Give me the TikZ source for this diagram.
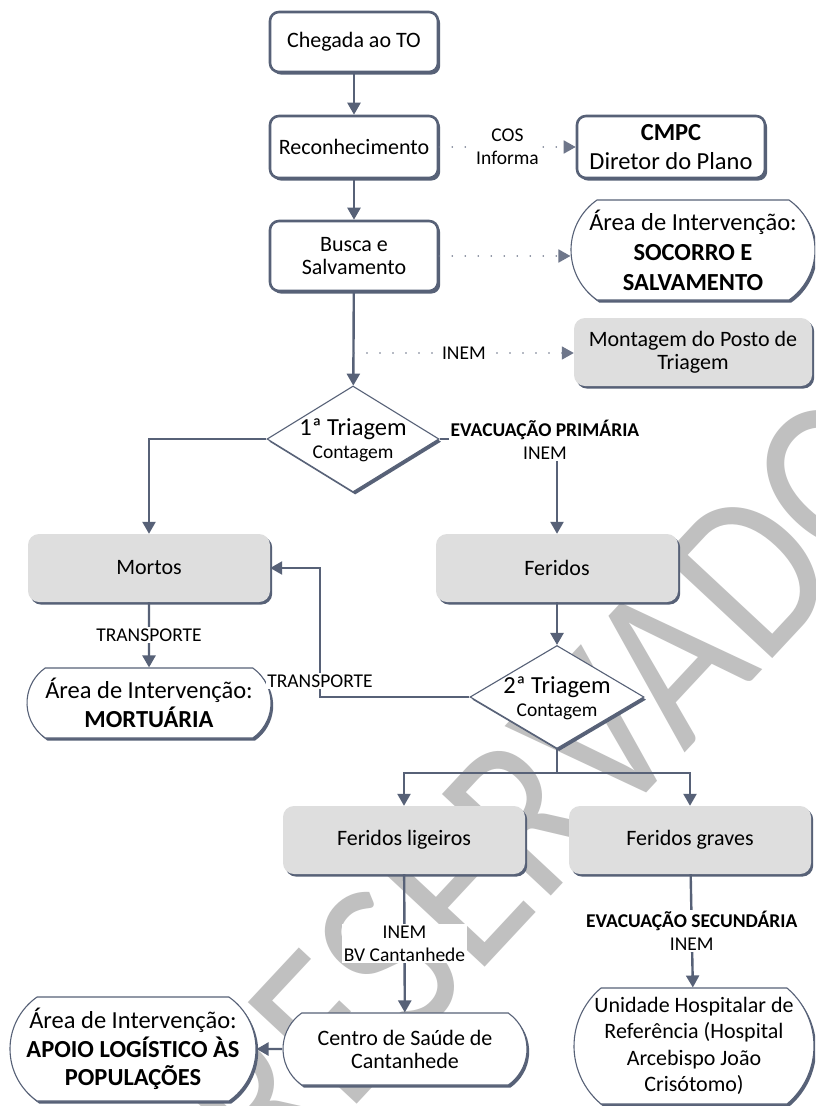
\documentclass[tikz,border=0pt]{standalone}
\usepackage{fontspec}
\setmainfont{Carlito}
\newfontfamily\wmfont[FakeStretch=0.86]{Carlito}
\usetikzlibrary{arrows.meta,shapes.geometric,shapes.misc,shadows}
\definecolor{slate}{RGB}{87,97,119}
\definecolor{dotc}{RGB}{110,118,138}
\definecolor{boxgray}{RGB}{222,222,222}
\definecolor{wmark}{RGB}{192,192,192}
\newcommand{\myfmain}{\fontsize{22}{23}\selectfont}
\newcommand{\myfbig}{\fontsize{24.5}{28.5}\selectfont}
\newcommand{\myfsmall}{\fontsize{19.5}{23}\selectfont}
\newcommand{\diatext}[2]{\makebox[0pt]{\smash{\raisebox{-8pt}{\myfsmall\begin{tabular}{@{}c@{}}{\myfbig #1}\\#2\end{tabular}}}}}
\begin{document}
\begin{tikzpicture}[x=1pt,y=-1pt,
 shd/.style={drop shadow={shadow xshift=2.2pt,shadow yshift=-2.6pt,opacity=1,fill=slate}},
 wbox/.style={shd,draw=slate,line width=2.6pt,fill=white,rounded corners=9pt,minimum width=168pt,inner sep=1pt,align=center,font=\myfmain},
 gbox/.style={shd,fill=boxgray,draw=none,rounded corners=11pt,minimum width=240pt,minimum height=66pt,align=center,font=\myfmain},
 term/.style={shd,rounded rectangle,rounded rectangle arc length=110,draw=slate,line width=1.1pt,fill=white,align=center,inner sep=0pt},
 dia/.style={shd,diamond,draw=slate,line width=1.1pt,fill=white,inner sep=0pt},
 conn/.style={draw=slate,line width=2.4pt,-{Triangle[length=12pt,width=13pt]}},
 plainline/.style={draw=slate,line width=2.4pt},
 dconn/.style={draw=dotc,line width=1.8pt,line cap=round,dash pattern=on 0pt off 13pt,-{Triangle[length=12pt,width=13pt]}},
 lab/.style={fill=white,inner sep=1.5pt,align=center,font=\myfsmall}
]
\useasboundingbox (0,0) rectangle (815,1106);
\fill[white] (0,0) rectangle (815,1106);
\clip (0,0) rectangle (815,1106);

% watermark
\node[rotate=47,text=wmark,font=\wmfont\fontsize{232}{232}\selectfont,inner sep=0pt] (wm) at (551,787) {RESERVADO};

% nodes
\node[wbox,minimum height=60pt] (chegada) at (354,42) {Chegada ao TO};
\node[wbox,minimum height=62pt] (recon) at (354,147) {Reconhecimento};
\node[wbox,minimum height=70pt] (busca) at (354,256) {Busca e\\Salvamento};
\node[wbox,minimum width=188pt,minimum height=62pt,font=\myfbig] (cmpc) at (671,147) {\textbf{CMPC}\\Diretor do Plano};
\node[term,minimum width=244pt,minimum height=100pt,font=\fontsize{24.5}{30}\selectfont] (socorro) at (693,250) {Área de Intervenção:\\\textbf{SOCORRO E}\\\textbf{SALVAMENTO}};
\node[gbox,minimum width=238pt,minimum height=68pt] (montagem) at (693,352) {Montagem do Posto de\\Triagem};
\node[dia,minimum width=172pt,minimum height=106pt] (t1) at (353,439) {\diatext{1ª Triagem}{Contagem}};
\node[gbox,minimum width=242pt,minimum height=68pt] (mortos) at (149,568) {Mortos};
\node[gbox,minimum width=242pt,minimum height=68pt] (feridos) at (557,568) {Feridos};
\node[term,minimum width=244pt,minimum height=70pt,font=\myfbig] (mortuaria) at (149,703) {Área de Intervenção:\\\textbf{MORTUÁRIA}};
\node[dia,minimum width=174pt,minimum height=103pt] (t2) at (557,697) {\diatext{2ª Triagem}{Contagem}};
\node[gbox,minimum width=242pt,minimum height=68pt] (ligeiros) at (404,840) {Feridos ligeiros};
\node[gbox,minimum width=242pt,minimum height=68pt] (graves) at (690,840) {Feridos graves};
\node[term,minimum width=244pt,minimum height=72pt,font=\myfmain] (centro) at (405,1049) {Centro de Saúde de\\Cantanhede};
\node[term,minimum width=240pt,minimum height=116pt,rounded rectangle arc length=100,font=\fontsize{22}{26.5}\selectfont] (unidade) at (694,1046) {Unidade Hospitalar de\\Referência (Hospital\\Arcebispo João\\Crisótomo)};
\node[term,minimum width=246pt,minimum height=104pt,font=\myfbig] (apoio) at (133,1049) {Área de Intervenção:\\\textbf{APOIO LOGÍSTICO ÀS}\\\textbf{POPULAÇÕES}};

% connectors
\draw[conn] (chegada) -- (recon);
\draw[conn] (recon) -- (busca);
\draw[conn] (busca) -- (t1);
\draw[dconn] (recon.east) -- node[lab]{COS\\Informa} (recon.east -| cmpc.west);
\draw[dconn] (busca.east) -- (busca.east -| socorro.west);
\coordinate (m0) at (354,353);
\draw[dconn] (m0) -- node[lab]{INEM} (m0 -| montagem.west);
\draw[conn] (t1.west) -| (mortos.north);
\draw[conn] (t1.east) -| (feridos.north);
\node[lab] (evac1) at (545,440) {\textbf{EVACUAÇÃO PRIMÁRIA}\\INEM};
\draw[conn] (mortos) -- node[lab]{TRANSPORTE} (mortuaria);
\draw[conn] (feridos) -- (t2);
\coordinate (rc) at (320,697);
\draw[conn] (t2.west) -- (rc) |- (mortos.east);
\node[lab] (trans2) at (320,681) {TRANSPORTE};
\coordinate (fk) at (557,773);
\draw[plainline] (t2.south) -- (fk);
\draw[conn] (fk) -| (ligeiros.north);
\draw[conn] (fk) -| (graves.north);
\draw[conn] (ligeiros) -- node[lab]{INEM\\BV Cantanhede} (centro);
\draw[conn] (graves) -- node[lab]{\textbf{EVACUAÇÃO SECUNDÁRIA}\\INEM} (unidade);
\draw[conn] (centro) -- (apoio);
\end{tikzpicture}
\end{document}
